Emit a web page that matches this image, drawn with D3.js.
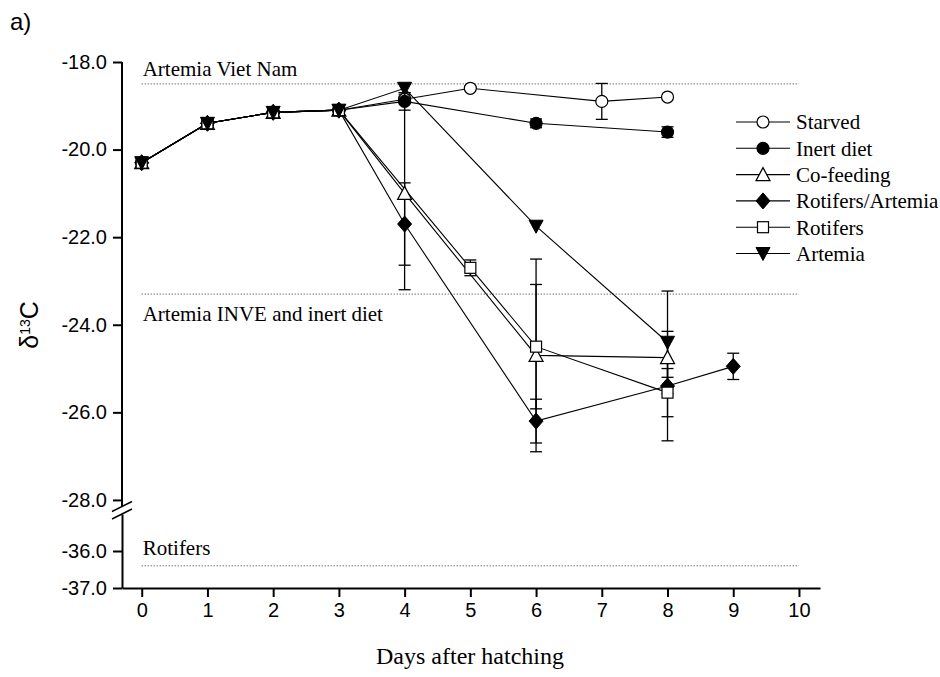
<!DOCTYPE html>
<html>
<head>
<meta charset="utf-8">
<script src="https://cdn.jsdelivr.net/npm/d3@7"></script>
<style>
  body { margin: 0; background: #fff; }
  svg { display: block; }
</style>
</head>
<body>
<svg></svg>
<script>
const svgWidth = 940;
const svgHeight = 677;

// data
const seriesNames = ["Starved", "Inert diet", "Co-feeding", "Rotifers/Artemia", "Rotifers", "Artemia"];
const seriesSymbols = ["circleOpen", "circleFilled", "triUpOpen", "diamondFilled", "squareOpen", "triDownFilled"];

const starvedDays = [0, 1, 2, 3, 4, 5, 7, 8];
const starvedValues = [-20.3, -19.4, -19.15, -19.1, -18.85, -18.6, -18.9, -18.8];
const starvedErrors = [0.05, 0.05, 0.05, 0.05, 0.1, 0, 0.41, 0];

const inertDays = [0, 1, 2, 3, 4, 6, 8];
const inertValues = [-20.3, -19.4, -19.15, -19.1, -18.9, -19.4, -19.6];
const inertErrors = [0.05, 0.05, 0.05, 0.05, 0.2, 0.1, 0.12];

const cofeedDays = [0, 1, 2, 3, 4, 6, 8];
const cofeedValues = [-20.3, -19.4, -19.15, -19.1, -21.0, -24.7, -24.75];
const cofeedErrors = [0.05, 0.05, 0.05, 0.05, 2.2, 2.2, 0.45];

const rotArtDays = [0, 1, 2, 3, 4, 6, 8, 9];
const rotArtValues = [-20.3, -19.4, -19.15, -19.1, -21.7, -26.2, -25.4, -24.95];
const rotArtErrors = [0.05, 0.05, 0.05, 0.05, 0.94, 0.5, 1.25, 0.3];

const rotifersDays = [0, 1, 2, 3, 5, 6, 8];
const rotifersValues = [-20.3, -19.4, -19.15, -19.1, -22.7, -24.5, -25.55];
const rotifersErrors = [0.05, 0.05, 0.05, 0.05, 0.18, 1.42, 0.55];

const artemiaDays = [0, 1, 2, 3, 4, 6, 8];
const artemiaValues = [-20.3, -19.4, -19.15, -19.1, -18.6, -21.75, -24.4];
const artemiaErrors = [0.05, 0.05, 0.05, 0.05, 0.1, 0.05, 1.17];

const refValues = [-18.5, -23.3, -36.4];
const refLabels = ["Artemia Viet Nam", "Artemia INVE and inert diet", "Rotifers"];

const xTicks = [0, 1, 2, 3, 4, 5, 6, 7, 8, 9, 10];
const yTicksUpper = [-18, -20, -22, -24, -26, -28];
const yTicksLower = [-36, -37];

const allDays = [starvedDays, inertDays, cofeedDays, rotArtDays, rotifersDays, artemiaDays];
const allValues = [starvedValues, inertValues, cofeedValues, rotArtValues, rotifersValues, artemiaValues];
const allErrors = [starvedErrors, inertErrors, cofeedErrors, rotArtErrors, rotifersErrors, artemiaErrors];

const series = seriesNames.map((name, i) => ({
	name: name,
	symbol: seriesSymbols[i],
	points: allDays[i].map((d, j) => ({ day: d, value: allValues[i][j], err: allErrors[i][j] }))
}));

const svg = d3.select("svg")
	.attr("width", svgWidth)
	.attr("height", svgHeight);

const sans = "'Liberation Sans', Arial, sans-serif";
const serif = "'Liberation Serif', 'Times New Roman', serif";

let xScale = d3.scaleLinear()
	.domain([-0.3, 10.32])
	.range([122, 820]);

// broken y axis: two linear pieces
let yUpper = d3.scaleLinear()
	.domain([-28.15, -18])
	.range([506.5, 62]);
let yLower = d3.scaleLinear()
	.domain([-37, -35.0])
	.range([588, 514]);
const yScale = v => v >= -28.5 ? yUpper(v) : yLower(v);

// reference lines
const refs = svg.append("g");
refs.selectAll("line")
	.data(refValues)
	.enter()
	.append("line")
	.attr("x1", xScale(0))
	.attr("x2", xScale(10))
	.attr("y1", d => yScale(d))
	.attr("y2", d => yScale(d))
	.attr("stroke", "#333")
	.attr("stroke-width", 1)
	.attr("stroke-dasharray", "1,2");

const labelShift = [-8, 27, -11];
refs.selectAll("text")
	.data(refValues)
	.enter()
	.append("text")
	.text((d, i) => refLabels[i])
	.attr("x", xScale(0) + 1)
	.attr("y", (d, i) => yScale(d) + labelShift[i])
	.attr("font-family", serif)
	.attr("font-size", "21px");

// axes
let xAxis = d3.axisBottom(xScale)
	.tickValues(xTicks)
	.tickSize(9)
	.tickSizeOuter(0)
	.tickPadding(6);

svg.append("g")
	.attr("transform", "translate(0, 588)")
	.call(xAxis)
	.call(g => g.selectAll("text").attr("font-size", "20px").attr("font-family", sans).attr("fill", "#000"))
	.call(g => g.selectAll("line, path").attr("stroke", "#000").attr("stroke-width", 2));

const fmt = d => d.toFixed(1);

svg.append("g")
	.attr("transform", "translate(122, 0)")
	.call(d3.axisLeft(yUpper).tickValues(yTicksUpper).tickFormat(fmt).tickSize(9).tickSizeOuter(0).tickPadding(6))
	.call(g => g.select(".domain").attr("d", `M0,${yUpper(-18)}V${yUpper(-28.15)}`))
	.call(g => g.selectAll("text").attr("font-size", "20px").attr("font-family", sans).attr("fill", "#000"))
	.call(g => g.selectAll("line, path").attr("stroke", "#000").attr("stroke-width", 2));

svg.append("g")
	.attr("transform", "translate(122, 0)")
	.call(d3.axisLeft(yLower).tickValues(yTicksLower).tickFormat(fmt).tickSize(9).tickSizeOuter(0).tickPadding(6))
	.call(g => g.selectAll("text").attr("font-size", "20px").attr("font-family", sans).attr("fill", "#000"))
	.call(g => g.selectAll("line, path").attr("stroke", "#000").attr("stroke-width", 2));

// break marks
const brk = svg.append("g").attr("stroke", "#000").attr("stroke-width", 1.5);
[yUpper(-28.15), yLower(-35.0)].forEach(yy => {
	brk.append("line")
		.attr("x1", 112).attr("x2", 132)
		.attr("y1", yy + 5).attr("y2", yy - 5);
});

// data lines
let line = d3.line()
	.x(d => xScale(d.day))
	.y(d => yScale(d.value));

svg.append("g")
	.selectAll("path")
	.data(series)
	.enter()
	.append("path")
	.attr("d", d => line(d.points))
	.attr("fill", "none")
	.attr("stroke", "#000")
	.attr("stroke-width", 1.1);

// error bars
const errG = svg.append("g").attr("stroke", "#000").attr("stroke-width", 1.3);
series.forEach(s => {
	s.points.filter(p => p.err > 0.06).forEach(p => {
		let cx = xScale(p.day);
		let top = yScale(p.value + p.err);
		let bot = yScale(p.value - p.err);
		errG.append("line").attr("x1", cx).attr("x2", cx).attr("y1", top).attr("y2", bot);
		errG.append("line").attr("x1", cx - 6).attr("x2", cx + 6).attr("y1", top).attr("y2", top);
		errG.append("line").attr("x1", cx - 6).attr("x2", cx + 6).attr("y1", bot).attr("y2", bot);
	});
});

// markers
function drawMarker(g, symbol, cx, cy) {
	if (symbol == "circleOpen" || symbol == "circleFilled") {
		g.append("circle")
			.attr("cx", cx).attr("cy", cy).attr("r", 6)
			.attr("fill", symbol == "circleOpen" ? "#fff" : "#000")
			.attr("stroke", "#000").attr("stroke-width", 1.2);
	} else if (symbol == "triUpOpen") {
		g.append("path")
			.attr("d", `M${cx},${cy - 7}L${cx + 7},${cy + 6}L${cx - 7},${cy + 6}Z`)
			.attr("fill", "#fff").attr("stroke", "#000").attr("stroke-width", 1.2);
	} else if (symbol == "triDownFilled") {
		g.append("path")
			.attr("d", `M${cx},${cy + 7}L${cx + 7},${cy - 6}L${cx - 7},${cy - 6}Z`)
			.attr("fill", "#000").attr("stroke", "#000").attr("stroke-width", 1);
	} else if (symbol == "diamondFilled") {
		g.append("path")
			.attr("d", `M${cx},${cy - 8}L${cx + 7},${cy}L${cx},${cy + 8}L${cx - 7},${cy}Z`)
			.attr("fill", "#000").attr("stroke", "#000").attr("stroke-width", 1);
	} else if (symbol == "squareOpen") {
		g.append("rect")
			.attr("x", cx - 5.5).attr("y", cy - 5.5).attr("width", 11).attr("height", 11)
			.attr("fill", "#fff").attr("stroke", "#000").attr("stroke-width", 1.2);
	}
}

const markG = svg.append("g");
series.forEach(s => {
	s.points.forEach(p => drawMarker(markG, s.symbol, xScale(p.day), yScale(p.value)));
});

// legend
const legend = svg.append("g");
series.forEach((s, i) => {
	let ly = 122 + i * 26.3;
	legend.append("line")
		.attr("x1", 736).attr("x2", 790)
		.attr("y1", ly).attr("y2", ly)
		.attr("stroke", "#000").attr("stroke-width", 1.1);
	drawMarker(legend, s.symbol, 763, ly);
	legend.append("text")
		.text(s.name)
		.attr("x", 796)
		.attr("y", ly)
		.attr("dy", "0.35em")
		.attr("font-family", serif)
		.attr("font-size", "21px");
});

// axis titles
svg.append("text")
	.text("Days after hatching")
	.attr("x", 470)
	.attr("y", 664)
	.attr("text-anchor", "middle")
	.attr("font-family", serif)
	.attr("font-size", "24px");

const yTitle = svg.append("text")
	.attr("transform", "translate(38, 325) rotate(-90)")
	.attr("text-anchor", "middle")
	.attr("font-family", sans)
	.attr("font-size", "25px");
yTitle.append("tspan").text("δ");
yTitle.append("tspan").text("13").attr("font-size", "14px").attr("dy", "-0.6em");
yTitle.append("tspan").text("C").attr("dy", "0.35em");

// panel label
svg.append("text")
	.text("a)")
	.attr("x", 10)
	.attr("y", 30)
	.attr("font-family", sans)
	.attr("font-size", "24px");
</script>
</body>
</html>
